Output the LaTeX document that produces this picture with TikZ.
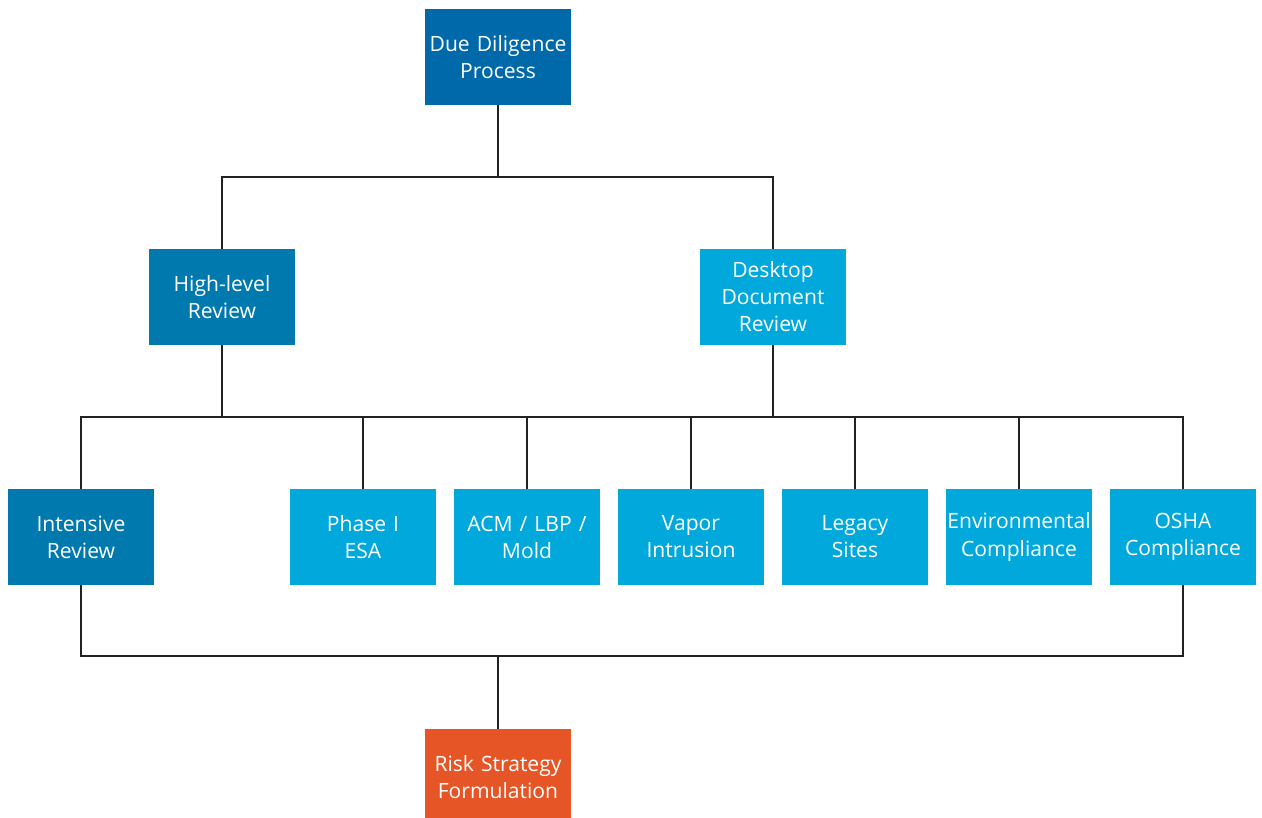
\documentclass[tikz,border=0pt]{standalone}
\usepackage{fontspec}
\setmainfont{Open Sans}
\usetikzlibrary{positioning}

\definecolor{topblue}{HTML}{0069AA}
\definecolor{midblue}{HTML}{0079AE}
\definecolor{skyblue}{HTML}{00A8DC}
\definecolor{riskorange}{HTML}{E55525}
\definecolor{linegray}{HTML}{222222}

\tikzset{
  box/.style={rectangle, minimum width=2.92cm, minimum height=1.92cm,
    text width=2.92cm, align=center, inner sep=0pt, outer sep=0pt, text=white,
    font=\fontsize{12}{15.4}\selectfont},
  link/.style={draw=linegray, line width=1.1pt}
}

\begin{document}
\begin{tikzpicture}[x=0.02cm,y=-0.02cm]
    \useasboundingbox (0,0) rectangle (1262,818);

    \node[box, fill=topblue]    (ddp)   at (498,57)   {Due Diligence\\Process};
    \node[box, fill=midblue]    (hl)    at (222,297)  {High-level\\Review};
    \node[box, fill=skyblue]    (dd)    at (773,297)  {Desktop\\Document\\Review};

    \node[box, fill=midblue]    (ir)    at (81,537)   {Intensive\\Review};
    \node[box, fill=skyblue]    (esa)   at (363,537)  {Phase I\\ESA};
    \node[box, fill=skyblue]    (acm)   at (527,537)  {ACM / LBP /\\Mold};
    \node[box, fill=skyblue]    (vi)    at (691,537)  {Vapor\\Intrusion};
    \node[box, fill=skyblue]    (ls)    at (855,537)  {Legacy\\Sites};
    \node[box, fill=skyblue]    (ec)    at (1019,537) {Environmental\\Compliance};
    \node[box, fill=skyblue]    (osha)  at (1183,537) {OSHA\\Compliance};

    \node[box, fill=riskorange] (rsf)   at (498,777)  {Risk Strategy\\Formulation};

    % first split
    \draw[link] (ddp.south) -- ++(0,72) coordinate (j0) -| (hl.north);
    \draw[link] (j0) -| (dd.north);

    % second split
    \draw[link] (hl.south) -- ++(0,72) coordinate (j1);
    \draw[link] (dd.south) -- ++(0,72) coordinate (j2);
    \foreach \n in {ir,esa,acm,vi,ls}
      \draw[link] (j1) -| (\n.north);
    \foreach \n in {ec,osha}
      \draw[link] (j2) -| (\n.north);

    % merge
    \draw[link] (ir.south) -- ++(0,71) coordinate (j3) -| (osha.south);
    \draw[link] (j3 -| rsf.north) -- (rsf.north);
\end{tikzpicture}
\end{document}
